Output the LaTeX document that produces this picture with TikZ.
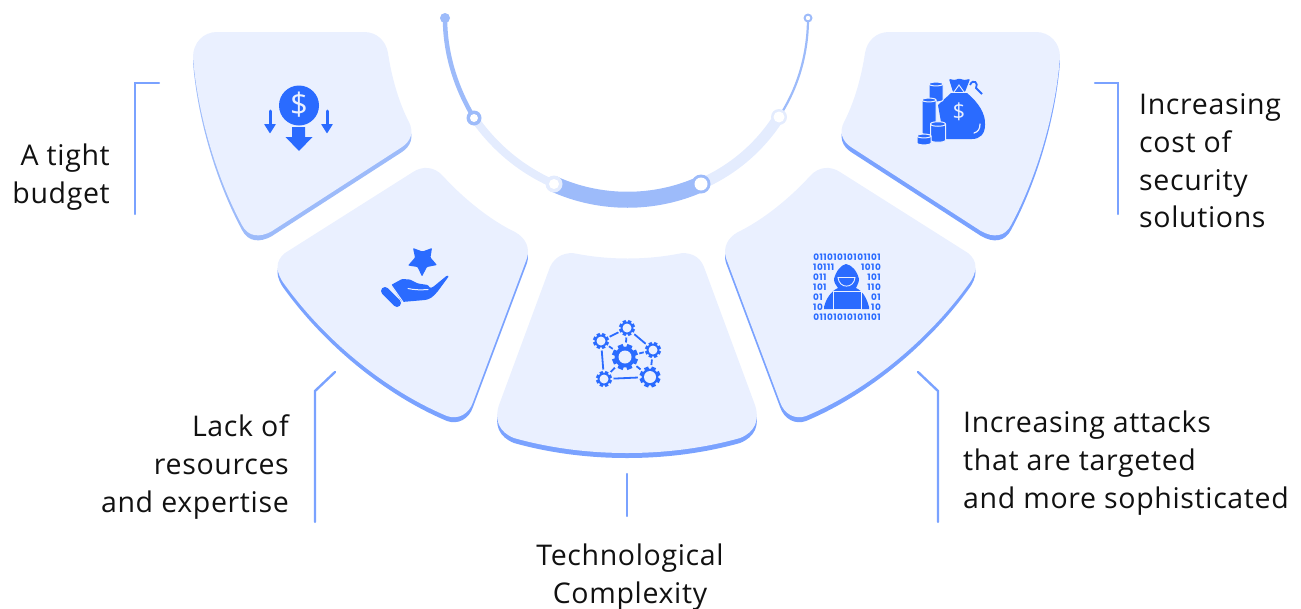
\documentclass[tikz,border=0pt]{standalone}
\usepackage{fontspec}
\setmainfont[LetterSpace=2.3]{Open Sans}
\newfontfamily\binfont[LetterSpace=5]{Poppins}
\newfontfamily\plainfont{Open Sans}
\definecolor{pale}{HTML}{EAF0FF}
\definecolor{palearc}{HTML}{E4ECFE}
\definecolor{softblue}{HTML}{9DBBFA}
\definecolor{edgeblue}{HTML}{7AA2FF}
\definecolor{iconblue}{HTML}{2A6BFF}
\definecolor{inktext}{HTML}{111111}
\newcommand{\cardA}{(193,57) .. controls (193,43) and (203,32) .. (217,32) -- (364,32) .. controls (377,32) and (386,41) .. (388,53) .. controls (392,80) and (400,105) .. (409,122) .. controls (414,132) and (411,141) .. (402,147) -- (272,231) .. controls (260,238) and (248,237) .. (242,225) .. controls (215,175) and (197,110) .. (193,57) -- cycle}
\newcommand{\cardB}{(285,253) -- (413,172) .. controls (422,166) and (434,166) .. (443,176) .. controls (463,198) and (490,220) .. (515,232) .. controls (526,238) and (530,248) .. (527,258) -- (473,402) .. controls (469,414) and (458,420) .. (447,416) .. controls (385,390) and (325,340) .. (285,285) .. controls (275,272) and (275,261) .. (285,253) -- cycle}
\newcommand{\cardC}{(550,267) .. controls (555,256) and (566,251) .. (578,254) .. controls (610,260) and (645,260) .. (677,254) .. controls (689,251) and (700,256) .. (704,267) -- (755,405) .. controls (760,420) and (755,432) .. (740,438) .. controls (669,458) and (585,458) .. (514,438) .. controls (499,432) and (494,420) .. (499,405) -- cycle}
\newcommand{\gearat}[3]{%
  \fill[pale] (#1) circle ({#2+1.6});
  \foreach \a in {0,45,...,315}{\draw[iconblue,line width=#2*0.42] (#1) -- +(\a+22.5:#2);}
  \fill[iconblue] (#1) circle ({#2*0.8});
  \fill[pale] (#1) circle (#3);}
\newcommand{\cyl}[5]{%
  \path[fill=iconblue,draw=pale,line width=1] ({#1-#2},#3) .. controls ({#1-#2},{#3-#5}) and ({#1+#2},{#3-#5}) .. ({#1+#2},#3) -- ({#1+#2},#4) .. controls ({#1+#2},{#4+#5}) and ({#1-#2},{#4+#5}) .. ({#1-#2},#4) -- cycle;
  \draw[pale,line width=1] ({#1-#2},#3) .. controls ({#1-#2},{#3+#5}) and ({#1+#2},{#3+#5}) .. ({#1+#2},#3);}
\tikzset{
  bracket/.style={draw=edgeblue,line width=2.4pt,line cap=round,line join=miter},
  label/.style={font=\fontsize{28.5}{37.6}\selectfont,text=inktext,inner sep=0pt},
  arcseg/.style={line cap=butt},
  bitrow/.style={font=\binfont\bfseries\fontsize{8.9}{9}\selectfont,text=iconblue,inner sep=0pt},
  gearlink/.style={draw=iconblue,line width=1.8pt},
}
\begin{document}
\begin{tikzpicture}[x=1pt,y=-1pt]
\useasboundingbox (0,0) rectangle (1301,608);
% cards
\fill[softblue,shift={(0,5)}] \cardA;
\fill[pale] \cardA;
\fill[edgeblue,shift={(0,5)}] \cardB;
\fill[pale] \cardB;
\fill[edgeblue,shift={(0,5)}] \cardC;
\fill[pale] \cardC;
\begin{scope}[shift={(1253,0)},xscale=-1]
\fill[edgeblue,shift={(0,5)}] \cardB;
\fill[pale] \cardB;
\fill[edgeblue,shift={(0,5)}] \cardA;
\fill[pale] \cardA;
\end{scope}
% arc
\coordinate (p0) at (445,18);
\coordinate (p1) at (474,118);
\coordinate (p2) at (554,184);
\coordinate (p3) at (701,184);
\coordinate (p4) at (779,117);
\coordinate (p5) at (808,18);
\draw[softblue,line width=4.5pt,arcseg] (p0) .. controls (445,54) and (456,88) .. (p1);
\draw[palearc,line width=8pt,arcseg] (p1) .. controls (495,148) and (522,170) .. (p2);
\draw[softblue,line width=16pt,arcseg] (p2) .. controls (600,205) and (655,205) .. (p3);
\draw[palearc,line width=11pt,arcseg] (p3) .. controls (733,170) and (760,147) .. (p4);
\draw[softblue,line width=2.2pt,arcseg] (p4) .. controls (798,88) and (808,54) .. (p5);
\fill[softblue] (p0) circle (5);
\fill[softblue] (p5) circle (4.5);
\fill[white] (p5) circle (2.2);
\fill[softblue] (p1) circle (7.5);
\fill[white] (p1) circle (4);
\fill[palearc] (p2) circle (8.5);
\fill[white] (p2) circle (5);
\fill[softblue] (p3) circle (9.5);
\fill[white] (p3) circle (6.5);
\fill[palearc] (p4) circle (8);
\fill[white] (p4) circle (5.5);
% brackets
\coordinate (a1) at (159,83); \coordinate (a2) at (135,83); \coordinate (a3) at (135,214);
\draw[bracket] (a1) -- (a2) -- (a3);
\coordinate (e1) at (1095,83); \coordinate (e2) at (1118,83); \coordinate (e3) at (1118,214);
\draw[bracket] (e1) -- (e2) -- (e3);
\coordinate (b1) at (335,372); \coordinate (b2) at (315,391); \coordinate (b3) at (315,522);
\draw[bracket] (b1) -- (b2) -- (b3);
\coordinate (d1) at (918,372); \coordinate (d2) at (938,391); \coordinate (d3) at (938,522);
\draw[bracket] (d1) -- (d2) -- (d3);
\coordinate (c1) at (627,474); \coordinate (c2) at (627,516);
\draw[bracket] (c1) -- (c2);
% labels
\node[label,align=right,anchor=east] (ta) at (110,177) {A tight\\budget};
\node[label,align=left,anchor=west] (te) at (1139,161) {Increasing\\cost of\\security\\solutions};
\node[label,align=right,anchor=east] (tb) at (289,467) {Lack of\\resources\\and expertise};
\node[label,align=left,anchor=west] (td) at (963,463) {Increasing attacks\\that are targeted\\and more sophisticated};
\node[label,align=center,anchor=center] (tc) at (630,577) {Technological\\Complexity};
% icon: budget
\fill[iconblue] (299,105.5) circle (20);
\node[font=\plainfont\fontsize{31}{31}\selectfont,text=pale,inner sep=0pt] (dollarA) at (299,105) {\$};
\fill[iconblue] (292,127) -- (305,127) -- (305,137) -- (312.5,137) -- (299,151) -- (285.5,137) -- (292,137) -- cycle;
\foreach \x in {270,327}{
  \draw[iconblue,line width=3pt,line cap=round] (\x,111) -- (\x,130);
  \fill[iconblue,rounded corners=0.5] (\x-6,124) -- (\x+6,124) -- (\x,133.5) -- cycle;
}
% icon: money
\fill[iconblue] (951,93) -- (967,93) .. controls (978,102) and (986,114) .. (985,125) .. controls (985,134) and (980,139) .. (972,139) -- (944,139) -- (938,105) .. controls (943,100) and (947,97) .. (951,93) -- cycle;
\fill[iconblue,rounded corners=1] (949,79) -- (955,80) -- (959,78.5) -- (964,80) -- (970,79) -- (965,92) -- (953,92) -- cycle;
\draw[pale,line width=0.9pt] (954,92) -- (959,85) -- (964,92);
\draw[pale,line width=0.9pt] (948,92.5) -- (970,92.5);
\draw[iconblue,line width=1.8pt] (970,85) .. controls (973,78) and (979,83) .. (976,88) -- (982,94);
\node[font=\plainfont\fontsize{22}{22}\selectfont,text=pale,inner sep=0pt] (dollarE) at (959,112) {\$};
\draw[pale,line width=1.2pt,line cap=round] (980,124) .. controls (980,129) and (978,132) .. (974,133);
\cyl{936}{7}{84}{100}{2.5}
\cyl{929}{7}{100}{133}{2.5}
\cyl{938}{7.5}{124}{140}{3}
\cyl{924}{7}{136}{143}{2.5}
% icon: hacker
\foreach \yy in {257,317}{\node[bitrow] at (847,\yy) {01101010101101};}
\node[bitrow,anchor=west] at (813,267) {10111}; \node[bitrow,anchor=east] at (881,267) {1010};
\node[bitrow,anchor=west] at (813,277) {011}; \node[bitrow,anchor=east] at (881,277) {101};
\node[bitrow,anchor=west] at (813,287) {101}; \node[bitrow,anchor=east] at (881,287) {110};
\node[bitrow,anchor=west] at (813,297) {01}; \node[bitrow,anchor=east] at (881,297) {01};
\node[bitrow,anchor=west] at (813,307) {10}; \node[bitrow,anchor=east] at (881,307) {10};
\fill[iconblue] (834,279) .. controls (836,271) and (841,265) .. (846,264) .. controls (852,265) and (857,271) .. (859,279) .. controls (859,283) and (857,285) .. (856,288) .. controls (863,291) and (867,299) .. (869,307) -- (869,309) -- (824,309) -- (824,307) .. controls (826,299) and (831,291) .. (838,288) .. controls (836,285) and (834,283) .. (834,279) -- cycle;
\path[fill=iconblue,draw=pale,line width=0.9pt] (838,277.5) -- (855,277.5) .. controls (854,289) and (839,289) .. (838,277.5) -- cycle;
\path[fill=iconblue,draw=pale,line width=0.9pt] (833,291.5) rectangle (861,309);
% icon: gears
\coordinate (g0) at (625,357);
\coordinate (g1) at (627,328);
\coordinate (g2) at (601,341);
\coordinate (g3) at (653,350);
\coordinate (g4) at (604,379);
\coordinate (g5) at (650,377);
\draw[gearlink] (g1) -- (g2) (g2) -- (g4) (g4) -- (g5) (g5) -- (g3) (g3) -- (g1);
\draw[gearlink] (g0) -- (g1) (g0) -- (g2) (g0) -- (g3) (g0) -- (g4) (g0) -- (g5);
\gearat{g0}{13}{6.5}
\gearat{g1}{8}{4.5}
\gearat{g2}{8}{4.5}
\gearat{g3}{8}{4.5}
\gearat{g4}{8}{4.5}
\gearat{g5}{10.5}{6}
% icon: hand and star
\fill[iconblue,rounded corners=0.8] (422,276.5) -- (417.5,267) -- (408,265.5) -- (415,257.5) -- (413,248) -- (422.5,251.5) -- (432,248) -- (430.5,257.5) -- (437,265) -- (427,267) -- cycle;
\draw[iconblue,line width=8pt,line cap=round] (385,291) -- (397,303);
\fill[iconblue,rounded corners=1] (391,285) -- (402,279) -- (410,279.5) -- (418,283.5) -- (428,285) -- (430,288) -- (433,287) -- (447,275.5) -- (449,276) -- (438,291) .. controls (433,297) and (430,299) .. (425,300) -- (402,302) -- cycle;
\draw[pale,line width=1pt,line cap=round] (408,288.5) .. controls (414,290) and (422,290) .. (428,289.5);
\draw[pale,line width=1pt] (390,283.5) -- (403,302);
\end{tikzpicture}
\end{document}
